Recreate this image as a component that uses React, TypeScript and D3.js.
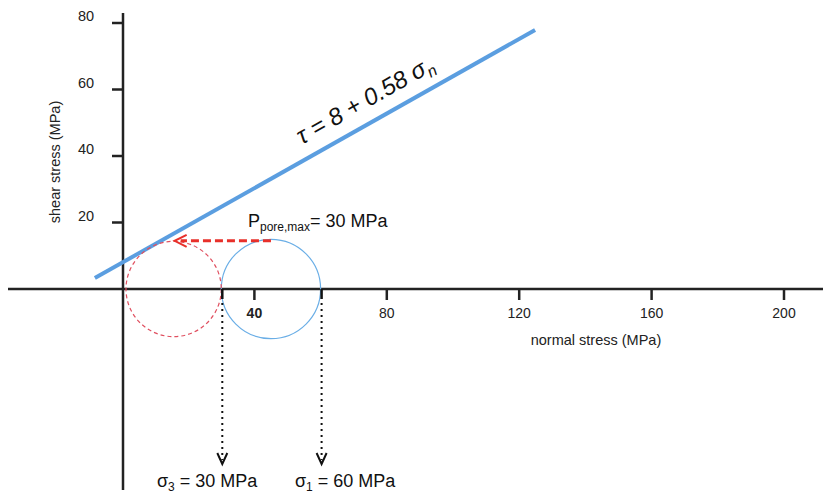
import React from "react";
import * as d3 from "d3";

// data
const xTicks = [40, 80, 120, 160, 200];
const yTicks = [20, 40, 60, 80];
const failureLine: [number, number][] = [[-8.2, 3.3], [124.8, 77.9]]; // τ = 8 + 0.58 σn as drawn
const sigma3 = 30;
const sigma1 = 60;
const porePressure = 30;
const arrowTau = 14.5;

const W = 823, H = 497;

export default function App() {
  const x = d3.scaleLinear().domain([0, 200]).range([122, 784]);
  const y = d3.scaleLinear().domain([0, 80]).range([289, 23]);
  const font = "'Liberation Sans', Arial, sans-serif";
  const line = d3.line<[number, number]>().x(d => x(d[0])).y(d => y(d[1]));

  const c1 = (sigma1 + sigma3) / 2, r = (sigma1 - sigma3) / 2;
  const c0 = c1 - porePressure;
  const rPx = x(r) - x(0);

  const p0 = failureLine[0], p1 = failureLine[1];
  const angle = Math.atan2(y(p1[1]) - y(p0[1]), x(p1[0]) - x(p0[0])) * 180 / Math.PI;
  const tx = 369, ty = 107;

  const arrowStart = x(c1), arrowEnd = x(c0) + 3, ay = y(arrowTau);

  return (
    <svg width={W} height={H} style={{ position: "absolute", left: 0, top: 0, background: "#fff" }} fontFamily={font}>
      {/* axes */}
      <line x1={8} x2={823} y1={y(0)} y2={y(0)} stroke="#222" strokeWidth={2.5} />
      <line x1={123} x2={123} y1={13} y2={490} stroke="#222" strokeWidth={2.5} />
      {yTicks.map(t => (
        <g key={t}>
          <line x1={112} x2={123} y1={y(t)} y2={y(t)} stroke="#222" strokeWidth={2.5} />
          <text x={86} y={y(t) - 2} fontSize={14.5} textAnchor="middle" fill="#222">{t}</text>
        </g>
      ))}
      {xTicks.map(t => (
        <g key={t}>
          <line x1={x(t)} x2={x(t)} y1={y(0)} y2={y(0) + 11} stroke="#222" strokeWidth={2.5} />
          <text x={x(t)} y={318} fontSize={14} textAnchor="middle" fill="#222" fontWeight={t === 40 ? "bold" : "normal"}>{t}</text>
        </g>
      ))}
      <text x={596} y={345} fontSize={14.5} textAnchor="middle" fill="#222">normal stress (MPa)</text>
      <text transform="translate(60,162) rotate(-90)" fontSize={14.5} textAnchor="middle" fill="#222">shear stress (MPa)</text>

      {/* failure envelope */}
      <path d={line(failureLine) || ""} stroke="#5b9ee0" strokeWidth={4} fill="none" />
      <text transform={`translate(${tx},${ty}) rotate(${angle})`} fontSize={24} fontStyle="italic" textAnchor="middle" fill="#111">
        τ = 8 + 0.58 σ<tspan fontSize={16} dy={5}>n</tspan>
      </text>

      {/* Mohr circles */}
      <circle cx={x(c1)} cy={y(0)} r={rPx} fill="none" stroke="#6aaee6" strokeWidth={1.2} />
      <circle cx={x(c0) + 2} cy={y(0)} r={rPx - 2} fill="none" stroke="#e05060" strokeWidth={1.2} strokeDasharray="4,3" />

      {/* pore pressure arrow */}
      <line x1={arrowStart} x2={arrowEnd + 6} y1={ay} y2={ay} stroke="#e8302a" strokeWidth={3} strokeDasharray="8,4" />
      <path d={`M${arrowEnd + 12},${ay - 6} L${arrowEnd},${ay} L${arrowEnd + 12},${ay + 6}`} stroke="#e8302a" strokeWidth={2} fill="none" />
      <text x={248} y={227} fontSize={18} fill="#111">
        P<tspan fontSize={12} dy={4}>pore,max</tspan><tspan dy={-4}>= 30 MPa</tspan>
      </text>

      {/* principal stress markers */}
      {[sigma3, sigma1].map(s => (
        <g key={s}>
          <line x1={x(s) + 1} x2={x(s) + 1} y1={y(0)} y2={y(0) + 10} stroke="#111" strokeWidth={2.5} />
          <line x1={x(s) + 1} x2={x(s) + 1} y1={y(0) + 14} y2={460} stroke="#111" strokeWidth={2} strokeDasharray="2,4" />
          <path d={`M${x(s) - 4},${453} L${x(s) + 1},${464} L${x(s) + 6},${453}`} stroke="#111" strokeWidth={2} fill="none" />
        </g>
      ))}
      <text x={157} y={487} fontSize={18} fill="#111">σ<tspan fontSize={12} dy={4}>3</tspan><tspan dy={-4}> = 30 MPa</tspan></text>
      <text x={295} y={487} fontSize={18} fill="#111">σ<tspan fontSize={12} dy={4}>1</tspan><tspan dy={-4}> = 60 MPa</tspan></text>
    </svg>
  );
}
